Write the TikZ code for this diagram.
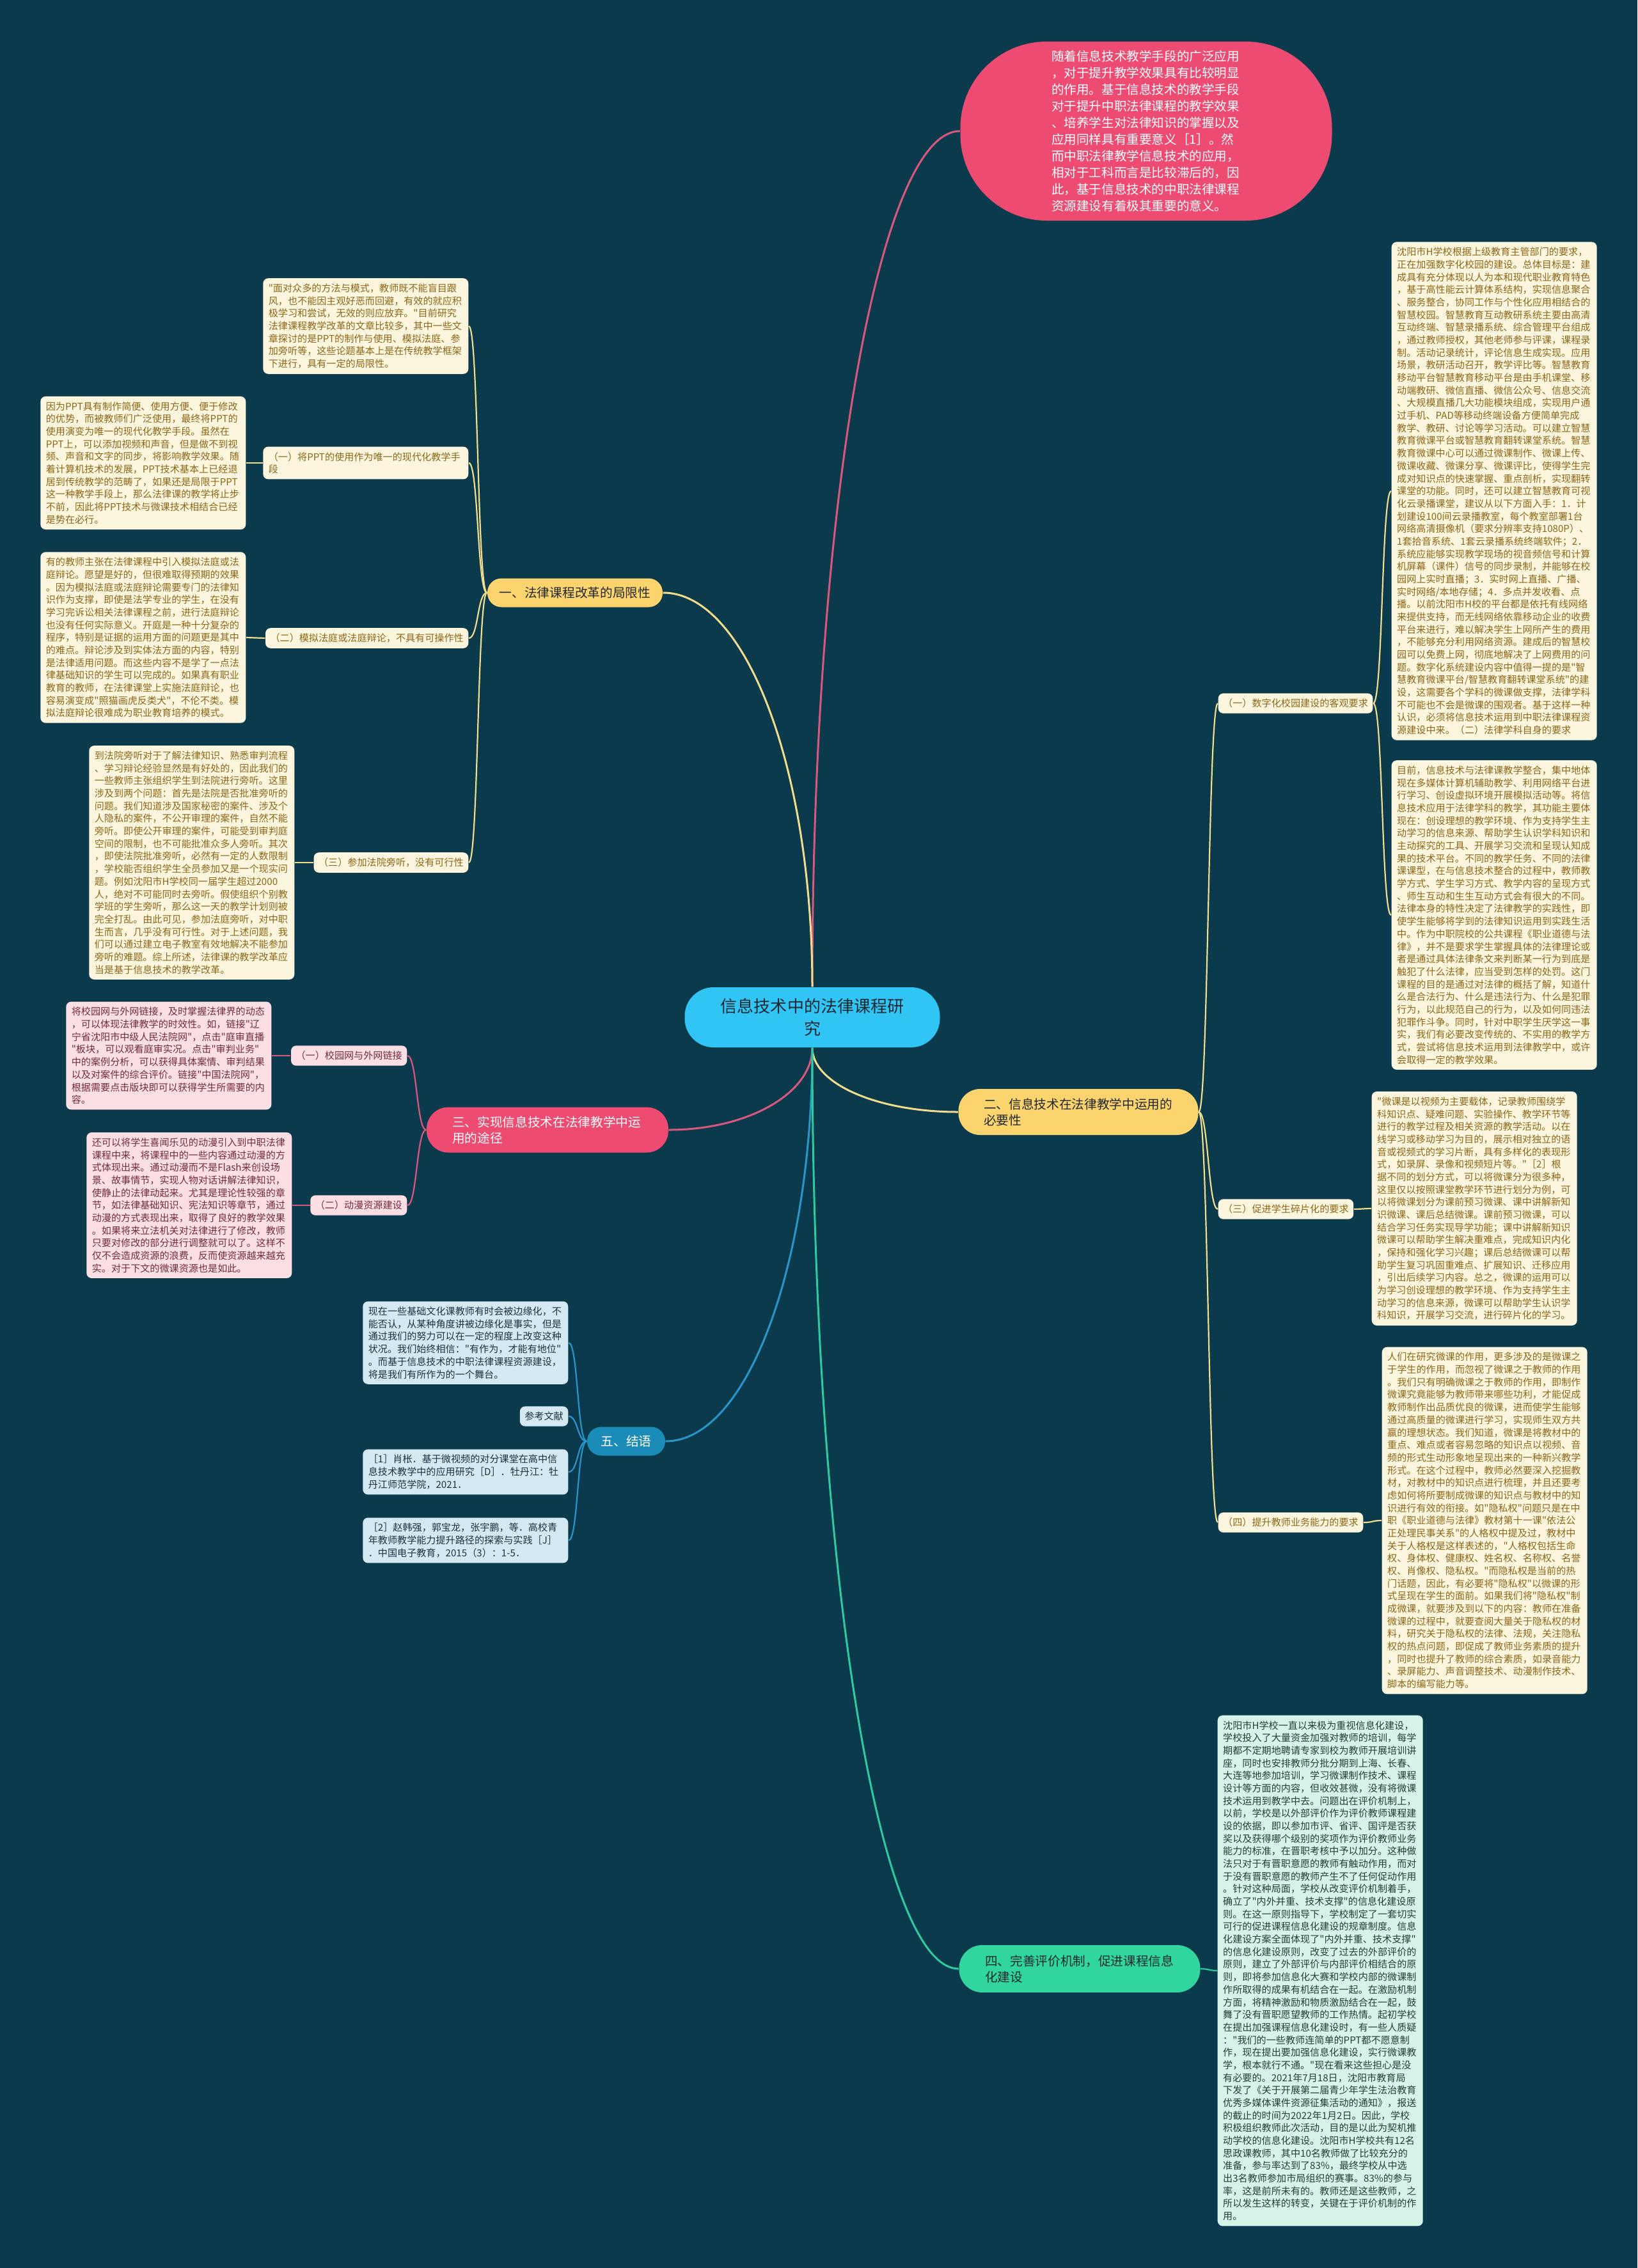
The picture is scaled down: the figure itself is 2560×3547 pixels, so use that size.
\documentclass[tikz,border=0pt]{standalone}
\usepackage{fontspec}
\setmainfont{Noto Sans CJK SC}[Ligatures=TeXOff]
\usetikzlibrary{positioning}

\definecolor{bgcol}{RGB}{12,58,77}
\definecolor{rosecol}{RGB}{238,75,114}
\definecolor{skycol}{RGB}{48,197,245}
\definecolor{goldcol}{RGB}{252,212,110}
\definecolor{mintcol}{RGB}{48,214,158}
\definecolor{seacol}{RGB}{27,139,183}
\definecolor{creamfill}{RGB}{253,246,222}
\definecolor{creamtext}{RGB}{140,102,24}
\definecolor{rosefill}{RGB}{252,223,229}
\definecolor{rosetext}{RGB}{112,44,62}
\definecolor{seafill}{RGB}{213,233,243}
\definecolor{seatext}{RGB}{28,50,66}
\definecolor{mintfill}{RGB}{214,244,234}
\definecolor{minttext}{RGB}{36,62,54}
\definecolor{goldline}{RGB}{240,222,140}
\definecolor{roseline}{RGB}{216,88,126}
\definecolor{sealine}{RGB}{40,150,200}
\definecolor{mintline}{RGB}{44,204,158}
\definecolor{darktext}{RGB}{32,40,48}

\begin{document}
\begin{tikzpicture}[
    x=0.1mm, y=-0.1mm,
    blk/.style={rectangle, rounded corners=0.8mm, text width=30.4mm, inner xsep=0.85mm, inner ysep=0.85mm, align=left, font=\fontsize{4.3pt}{5.6pt}\selectfont},
    tag/.style={rectangle, rounded corners=0.8mm, inner xsep=0.75mm, inner ysep=0.85mm, align=left, font=\fontsize{4.3pt}{5.6pt}\selectfont},
    cream/.style={fill=creamfill, text=creamtext},
    rose/.style={fill=rosefill, text=rosetext},
    sea/.style={fill=seafill, text=seatext},
    mint/.style={fill=mintfill, text=minttext},
    branch/.style={rectangle, align=left, font=\fontsize{5.6pt}{7.1pt}\selectfont},
    trunk/.style={line width=0.3mm},
    twig/.style={line width=0.22mm}
]

% -------- Layout --------
\def\xLtag{733}
\def\xLtxt{385}
\def\xRtag{1904}

% -------- Canvas --------
\fill[bgcol] (0,0) rectangle (2560,3547);
\useasboundingbox (0,0) rectangle (2560,3547);

% -------- Root + intro --------
\node[fill=skycol, text=darktext, rounded corners=4.5mm, minimum width=39.9mm, minimum height=9.4mm, align=center, font=\fontsize{7.4pt}{10pt}\selectfont] (cen) at (1270,1591) {信息技术中的法律课程研\\究};

\node[fill=rosecol, text=white, rounded corners=13.5mm, minimum width=58.1mm, minimum height=28mm, text width=29.6mm, align=left, font=\fontsize{5.58pt}{7.42pt}\selectfont] (intro) at (1792,205) {随着信息技术教学手段的广泛应用\\
，对于提升教学效果具有比较明显\\
的作用。基于信息技术的教学手段\\
对于提升中职法律课程的教学效果\\
、培养学生对法律知识的掌握以及\\
应用同样具有重要意义［1］。然\\
而中职法律教学信息技术的应用，\\
相对于工科而言是比较滞后的，因\\
此，基于信息技术的中职法律课程\\
资源建设有着极其重要的意义。};

% -------- Main branches --------
\node[branch, fill=goldcol, text=darktext, rounded corners=2.2mm, minimum width=27.4mm, minimum height=4.5mm] (b1) at (899,927) {一、法律课程改革的局限性};
\node[branch, fill=goldcol, text=darktext, rounded corners=3.4mm, minimum width=37.5mm, minimum height=7.2mm, text width=29.6mm] (b2) at (1686,1739) {二、信息技术在法律教学中运用的\\必要性};
\node[branch, fill=rosecol, text=white, rounded corners=3.4mm, minimum width=37.8mm, minimum height=7.1mm, text width=29.8mm] (b3) at (856,1767) {三、实现信息技术在法律教学中运\\用的途径};
\node[branch, fill=mintcol, text=darktext, rounded corners=3.6mm, minimum width=37.7mm, minimum height=7.4mm, text width=29.6mm] (b4) at (1688,3079) {四、完善评价机制，促进课程信息\\化建设};
\node[branch, fill=seacol, text=white, rounded corners=2.2mm, minimum width=12.2mm, minimum height=4.5mm] (b5) at (979,2254) {五、结语};

% -------- Branch 1 --------
\node[blk, cream, anchor=east] (n1a) at (\xLtag,510) {"面对众多的方法与模式，教师既不能盲目跟\\
风，也不能因主观好恶而回避，有效的就应积\\
极学习和尝试，无效的则应放弃。"目前研究\\
法律课程教学改革的文章比较多，其中一些文\\
章探讨的是PPT的制作与使用、模拟法庭、参\\
加旁听等，这些论题基本上是在传统教学框架\\
下进行，具有一定的局限性。};

\node[blk, cream, anchor=east] (n1b) at (\xLtag,724) {（一）将PPT的使用作为唯一的现代化教学手\\段};
\node[blk, cream, anchor=east] (n1bt) at (\xLtxt,724) {因为PPT具有制作简便、使用方便、便于修改\\
的优势，而被教师们广泛使用，最终将PPT的\\
使用演变为唯一的现代化教学手段。虽然在\\
PPT上，可以添加视频和声音，但是做不到视\\
频、声音和文字的同步，将影响教学效果。随\\
着计算机技术的发展，PPT技术基本上已经退\\
居到传统教学的范畴了，如果还是局限于PPT\\
这一种教学手段上，那么法律课的教学将止步\\
不前，因此将PPT技术与微课技术相结合已经\\
是势在必行。};

\node[tag, cream, anchor=east] (n1c) at (\xLtag,998) {（二）模拟法庭或法庭辩论，不具有可操作性};
\node[blk, cream, anchor=east] (n1ct) at (\xLtxt,997) {有的教师主张在法律课程中引入模拟法庭或法\\
庭辩论。愿望是好的，但很难取得预期的效果\\
。因为模拟法庭或法庭辩论需要专门的法律知\\
识作为支撑，即使是法学专业的学生，在没有\\
学习完诉讼相关法律课程之前，进行法庭辩论\\
也没有任何实际意义。开庭是一种十分复杂的\\
程序，特别是证据的运用方面的问题更是其中\\
的难点。辩论涉及到实体法方面的内容，特别\\
是法律适用问题。而这些内容不是学了一点法\\
律基础知识的学生可以完成的。如果真有职业\\
教育的教师，在法律课堂上实施法庭辩论，也\\
容易演变成"照猫画虎反类犬"，不伦不类。模\\
拟法庭辩论很难成为职业教育培养的模式。};

\node[tag, cream, anchor=east] (n1d) at (\xLtag,1349) {（三）参加法院旁听，没有可行性};
\node[blk, cream, anchor=east] (n1dt) at (461,1349) {到法院旁听对于了解法律知识、熟悉审判流程\\
、学习辩论经验显然是有好处的，因此我们的\\
一些教师主张组织学生到法院进行旁听。这里\\
涉及到两个问题：首先是法院是否批准旁听的\\
问题。我们知道涉及国家秘密的案件、涉及个\\
人隐私的案件，不公开审理的案件，自然不能\\
旁听。即使公开审理的案件，可能受到审判庭\\
空间的限制，也不可能批准众多人旁听。其次\\
，即使法院批准旁听，必然有一定的人数限制\\
，学校能否组织学生全员参加又是一个现实问\\
题。例如沈阳市H学校同一届学生超过2000\\
人，绝对不可能同时去旁听。假使组织个别教\\
学班的学生旁听，那么这一天的教学计划则被\\
完全打乱。由此可见，参加法庭旁听，对中职\\
生而言，几乎没有可行性。对于上述问题，我\\
们可以通过建立电子教室有效地解决不能参加\\
旁听的难题。综上所述，法律课的教学改革应\\
当是基于信息技术的教学改革。};

% -------- Branch 3 --------
\node[tag, rose, anchor=east] (n3a) at (637,1651) {（一）校园网与外网链接};
\node[blk, rose, anchor=east] (n3at) at (425,1651) {将校园网与外网链接，及时掌握法律界的动态\\
，可以体现法律教学的时效性。如，链接"辽\\
宁省沈阳市中级人民法院网"，点击"庭审直播\\
"板块，可以观看庭审实况。点击"审判业务"\\
中的案例分析，可以获得具体案情、审判结果\\
以及对案件的综合评价。链接"中国法院网"，\\
根据需要点击版块即可以获得学生所需要的内\\
容。};

\node[tag, rose, anchor=east] (n3b) at (637,1885) {（二）动漫资源建设};
\node[blk, rose, anchor=east] (n3bt) at (457,1885) {还可以将学生喜闻乐见的动漫引入到中职法律\\
课程中来，将课程中的一些内容通过动漫的方\\
式体现出来。通过动漫而不是Flash来创设场\\
景、故事情节，实现人物对话讲解法律知识，\\
使静止的法律动起来。尤其是理论性较强的章\\
节，如法律基础知识、宪法知识等章节，通过\\
动漫的方式表现出来，取得了良好的教学效果\\
。如果将来立法机关对法律进行了修改，教师\\
只要对修改的部分进行调整就可以了。这样不\\
仅不会造成资源的浪费，反而使资源越来越充\\
实。对于下文的微课资源也是如此。};

% -------- Branch 5 --------
\node[blk, sea, anchor=east] (n5a) at (889,2100) {现在一些基础文化课教师有时会被边缘化，不\\
能否认，从某种角度讲被边缘化是事实，但是\\
通过我们的努力可以在一定的程度上改变这种\\
状况。我们始终相信："有作为，才能有地位"\\
。而基于信息技术的中职法律课程资源建设，\\
将是我们有所作为的一个舞台。};
\node[tag, sea, anchor=east] (n5b) at (889,2215) {参考文献};
\node[blk, sea, anchor=east] (n5c) at (889,2302) {［1］肖枨．基于微视频的对分课堂在高中信\\
息技术教学中的应用研究［D］．牡丹江：牡\\
丹江师范学院，2021．};
\node[blk, sea, anchor=east] (n5d) at (889,2409) {［2］赵韩强，郭宝龙，张宇鹏，等．高校青\\
年教师教学能力提升路径的探索与实践［J］\\
．中国电子教育，2015（3）：1-5．};

% -------- Branch 2 --------
\node[tag, cream, anchor=west] (n2a) at (\xRtag,1100) {（一）数字化校园建设的客观要求};
\node[blk, cream, anchor=west] (n2at) at (2175,768) {沈阳市H学校根据上级教育主管部门的要求，\\
正在加强数字化校园的建设。总体目标是：建\\
成具有充分体现以人为本和现代职业教育特色\\
，基于高性能云计算体系结构，实现信息聚合\\
、服务整合，协同工作与个性化应用相结合的\\
智慧校园。智慧教育互动教研系统主要由高清\\
互动终端、智慧录播系统、综合管理平台组成\\
，通过教师授权，其他老师参与评课，课程录\\
制。活动记录统计，评论信息生成实现。应用\\
场景，教研活动召开，教学评比等。智慧教育\\
移动平台智慧教育移动平台是由手机课堂、移\\
动端教研、微信直播、微信公众号、信息交流\\
、大规模直播几大功能模块组成，实现用户通\\
过手机、PAD等移动终端设备方便简单完成\\
教学、教研、讨论等学习活动。可以建立智慧\\
教育微课平台或智慧教育翻转课堂系统。智慧\\
教育微课中心可以通过微课制作、微课上传、\\
微课收藏、微课分享、微课评比，使得学生完\\
成对知识点的快速掌握、重点剖析，实现翻转\\
课堂的功能。同时，还可以建立智慧教育可视\\
化云录播课堂，建议从以下方面入手：1．计\\
划建设100间云录播教室，每个教室部署1台\\
网络高清摄像机（要求分辨率支持1080P）、\\
1套拾音系统、1套云录播系统终端软件；2．\\
系统应能够实现教学现场的视音频信号和计算\\
机屏幕（课件）信号的同步录制，并能够在校\\
园网上实时直播；3．实时网上直播、广播、\\
实时网络/本地存储；4．多点并发收看、点\\
播。以前沈阳市H校的平台都是依托有线网络\\
来提供支持，而无线网络依靠移动企业的收费\\
平台来进行，难以解决学生上网所产生的费用\\
，不能够充分利用网络资源。建成后的智慧校\\
园可以免费上网，彻底地解决了上网费用的问\\
题。数字化系统建设内容中值得一提的是"智\\
慧教育微课平台/智慧教育翻转课堂系统"的建\\
设，这需要各个学科的微课做支撑，法律学科\\
不可能也不会是微课的围观者。基于这样一种\\
认识，必须将信息技术运用到中职法律课程资\\
源建设中来。（二）法律学科自身的要求};
\node[blk, cream, anchor=west] (n2bt) at (2175,1431) {目前，信息技术与法律课教学整合，集中地体\\
现在多媒体计算机辅助教学、利用网络平台进\\
行学习、创设虚拟环境开展模拟活动等。将信\\
息技术应用于法律学科的教学，其功能主要体\\
现在：创设理想的教学环境、作为支持学生主\\
动学习的信息来源、帮助学生认识学科知识和\\
主动探究的工具、开展学习交流和呈现认知成\\
果的技术平台。不同的教学任务、不同的法律\\
课课型，在与信息技术整合的过程中，教师教\\
学方式、学生学习方式、教学内容的呈现方式\\
、师生互动和生生互动方式会有很大的不同。\\
法律本身的特性决定了法律教学的实践性，即\\
使学生能够将学到的法律知识运用到实践生活\\
中。作为中职院校的公共课程《职业道德与法\\
律》，并不是要求学生掌握具体的法律理论或\\
者是通过具体法律条文来判断某一行为到底是\\
触犯了什么法律，应当受到怎样的处罚。这门\\
课程的目的是通过对法律的概括了解，知道什\\
么是合法行为、什么是违法行为、什么是犯罪\\
行为，以此规范自己的行为，以及如何同违法\\
犯罪作斗争。同时，针对中职学生厌学这一事\\
实，我们有必要改变传统的、不实用的教学方\\
式，尝试将信息技术运用到法律教学中，或许\\
会取得一定的教学效果。};

\node[tag, cream, anchor=west] (n2c) at (\xRtag,1891) {（三）促进学生碎片化的要求};
\node[blk, cream, anchor=west] (n2ct) at (2144,1890) {"微课是以视频为主要载体，记录教师围绕学\\
科知识点、疑难问题、实验操作、教学环节等\\
进行的教学过程及相关资源的教学活动。以在\\
线学习或移动学习为目的，展示相对独立的语\\
音或视频式的学习片断，具有多样化的表现形\\
式，如录屏、录像和视频短片等。"［2］根\\
据不同的划分方式，可以将微课分为很多种，\\
这里仅以按照课堂教学环节进行划分为例，可\\
以将微课划分为课前预习微课、课中讲解新知\\
识微课、课后总结微课。课前预习微课，可以\\
结合学习任务实现导学功能；课中讲解新知识\\
微课可以帮助学生解决重难点，完成知识内化\\
，保持和强化学习兴趣；课后总结微课可以帮\\
助学生复习巩固重难点、扩展知识、迁移应用\\
，引出后续学习内容。总之，微课的运用可以\\
为学习创设理想的教学环境、作为支持学生主\\
动学习的信息来源，微课可以帮助学生认识学\\
科知识，开展学习交流，进行碎片化的学习。};

\node[tag, cream, anchor=west] (n2d) at (\xRtag,2381) {（四）提升教师业务能力的要求};
\node[blk, cream, anchor=west] (n2dt) at (2160,2378) {人们在研究微课的作用，更多涉及的是微课之\\
于学生的作用，而忽视了微课之于教师的作用\\
。我们只有明确微课之于教师的作用，即制作\\
微课究竟能够为教师带来哪些功利，才能促成\\
教师制作出品质优良的微课，进而使学生能够\\
通过高质量的微课进行学习，实现师生双方共\\
赢的理想状态。我们知道，微课是将教材中的\\
重点、难点或者容易忽略的知识点以视频、音\\
频的形式生动形象地呈现出来的一种新兴教学\\
形式。在这个过程中，教师必然要深入挖掘教\\
材，对教材中的知识点进行梳理，并且还要考\\
虑如何将所要制成微课的知识点与教材中的知\\
识进行有效的衔接。如"隐私权"问题只是在中\\
职《职业道德与法律》教材第十一课"依法公\\
正处理民事关系"的人格权中提及过，教材中\\
关于人格权是这样表述的，"人格权包括生命\\
权、身体权、健康权、姓名权、名称权、名誉\\
权、肖像权、隐私权。"而隐私权是当前的热\\
门话题，因此，有必要将"隐私权"以微课的形\\
式呈现在学生的面前。如果我们将"隐私权"制\\
成微课，就要涉及到以下的内容：教师在准备\\
微课的过程中，就要查阅大量关于隐私权的材\\
料，研究关于隐私权的法律、法规，关注隐私\\
权的热点问题，即促成了教师业务素质的提升\\
，同时也提升了教师的综合素质，如录音能力\\
、录屏能力、声音调整技术、动漫制作技术、\\
脚本的编写能力等。};

% -------- Branch 4 --------
\node[blk, mint, anchor=west] (n4a) at (1903,3082) {沈阳市H学校一直以来极为重视信息化建设，\\
学校投入了大量资金加强对教师的培训，每学\\
期都不定期地聘请专家到校为教师开展培训讲\\
座，同时也安排教师分批分期到上海、长春、\\
大连等地参加培训，学习微课制作技术、课程\\
设计等方面的内容，但收效甚微，没有将微课\\
技术运用到教学中去。问题出在评价机制上，\\
以前，学校是以外部评价作为评价教师课程建\\
设的依据，即以参加市评、省评、国评是否获\\
奖以及获得哪个级别的奖项作为评价教师业务\\
能力的标准，在晋职考核中予以加分。这种做\\
法只对于有晋职意愿的教师有触动作用，而对\\
于没有晋职意愿的教师产生不了任何促动作用\\
。针对这种局面，学校从改变评价机制着手，\\
确立了"内外并重、技术支撑"的信息化建设原\\
则。在这一原则指导下，学校制定了一套切实\\
可行的促进课程信息化建设的规章制度。信息\\
化建设方案全面体现了"内外并重、技术支撑"\\
的信息化建设原则，改变了过去的外部评价的\\
原则，建立了外部评价与内部评价相结合的原\\
则，即将参加信息化大赛和学校内部的微课制\\
作所取得的成果有机结合在一起。在激励机制\\
方面，将精神激励和物质激励结合在一起，鼓\\
舞了没有晋职愿望教师的工作热情。起初学校\\
在提出加强课程信息化建设时，有一些人质疑\\
："我们的一些教师连简单的PPT都不愿意制\\
作，现在提出要加强信息化建设，实行微课教\\
学，根本就行不通。"现在看来这些担心是没\\
有必要的。2021年7月18日，沈阳市教育局\\
下发了《关于开展第二届青少年学生法治教育\\
优秀多媒体课件资源征集活动的通知》，报送\\
的截止的时间为2022年1月2日。因此，学校\\
积极组织教师此次活动，目的是以此为契机推\\
动学校的信息化建设。沈阳市H学校共有12名\\
思政课教师，其中10名教师做了比较充分的\\
准备，参与率达到了83\%，最终学校从中选\\
出3名教师参加市局组织的赛事。83\%的参与\\
率，这是前所未有的。教师还是这些教师，之\\
所以发生这样的转变，关键在于评价机制的作\\
用。};

% -------- Root -> branches --------
\draw[trunk, roseline] (cen.north) .. controls +(0,-740) and +(-128,0) .. (intro.west);
\draw[trunk, goldline] (cen.north) .. controls +(0,-341) and +(129,0) .. (b1.east);
\draw[trunk, goldline] (cen.south) .. controls +(0,56) and +(-126,0) .. (b2.west);
\draw[trunk, roseline] (cen.south) .. controls +(0,71) and +(124,0) .. (b3.east);
\draw[trunk, sealine] (cen.south) .. controls +(0,340) and +(127,0) .. (b5.east);
\draw[trunk, mintline] (cen.south) .. controls +(0,795) and +(-127,0) .. (b4.west);

% -------- Branch -> children --------
\foreach \c in {n1a,n1b,n1c,n1d}
    \draw[twig, goldline] (b1.west) .. controls +(-15,0) and +(15,0) .. (\c.east);
\foreach \c in {n3a,n3b}
    \draw[twig, roseline] (b3.west) .. controls +(-15,0) and +(15,0) .. (\c.east);
\foreach \c in {n5a,n5b,n5c,n5d}
    \draw[twig, sealine] (b5.west) .. controls +(-15,0) and +(15,0) .. (\c.east);
\foreach \c in {n2a,n2c,n2d}
    \draw[twig, goldline] (b2.east) .. controls +(15,0) and +(-15,0) .. (\c.west);
\foreach \c in {n2at,n2bt}
    \draw[twig, goldline] (n2a.east) .. controls +(15,0) and +(-15,0) .. (\c.west);
\draw[twig, goldline] (n2c.east) .. controls +(9,0) and +(-9,0) .. (n2ct.west);
\draw[twig, goldline] (n2d.east) .. controls +(15,0) and +(-15,0) .. (n2dt.west);
\draw[twig, mintline] (b4.east) .. controls +(12,0) and +(-12,0) .. (n4a.west);

% -------- Tags -> texts --------
\draw[twig, goldline] (n1b.west) -- (n1bt.east);
\draw[twig, goldline] (n1c.west) -- (n1ct.east);
\draw[twig, goldline] (n1d.west) -- (n1dt.east);
\draw[twig, roseline] (n3a.west) -- (n3at.east);
\draw[twig, roseline] (n3b.west) -- (n3bt.east);

\end{tikzpicture}
\end{document}
